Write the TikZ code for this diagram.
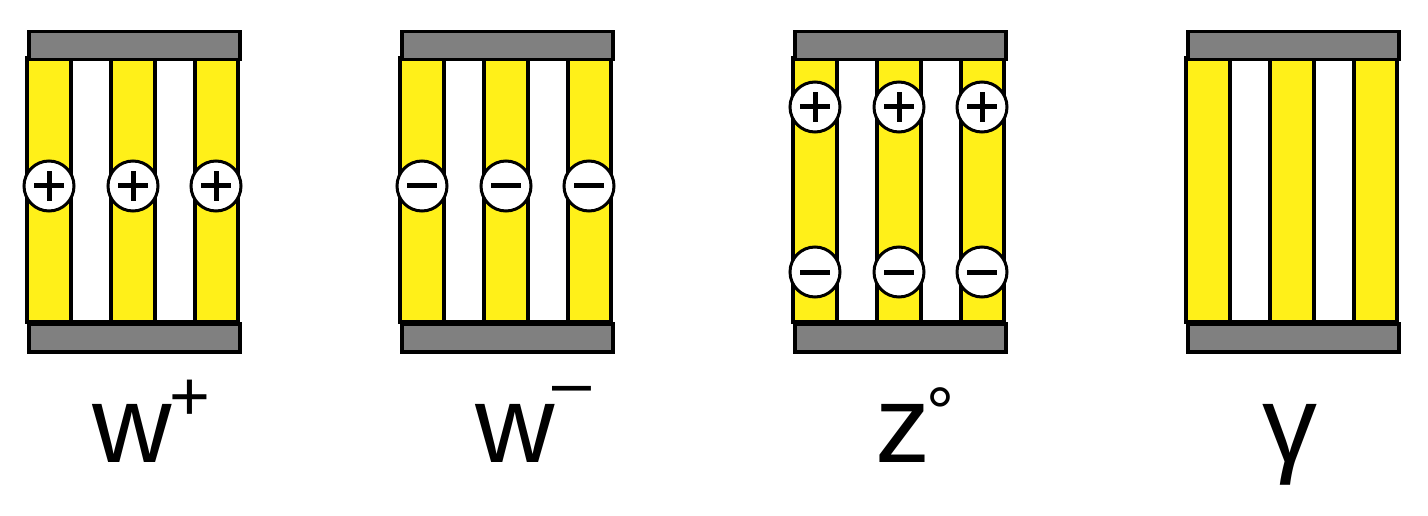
\documentclass[tikz,border=0pt]{standalone}
\usepackage{fontspec}
\setmainfont{Liberation Sans}
\definecolor{ylw}{RGB}{255,240,25}
\begin{document}
\begin{tikzpicture}[x=1pt,y=-1pt,
  grayb/.style={draw=black,line width=3.5pt,fill=black!50,minimum width=211pt,minimum height=28pt,inner sep=0pt,anchor=north west},
  chg/.style={circle,draw=black,line width=3pt,fill=white,minimum size=50pt,inner sep=0pt},
  sgn/.style={line width=5pt},
  lab/.style={font=\fontsize{110}{110}\selectfont,anchor=base}]
\useasboundingbox (0,0) rectangle (1428,516);
\def\panel#1#2{%
  \begin{scope}[xshift=#1]
  \fill[ylw] (0,58) rectangle (211,322);
  \fill[white] (44,58) rectangle (84,322) (128,58) rectangle (168,322);
  \draw[line width=3.5pt] (0,58) rectangle (211,322);
  \draw[line width=3.5pt] (44,58) -- (44,322) (84,58) -- (84,322) (128,58) -- (128,322) (168,58) -- (168,322);
  \node[grayb] (#2t) at (0,30) {};
  \node[grayb] (#2b) at (0,322) {};
  \end{scope}}
\panel{27pt}{a}
\panel{400pt}{b}
\panel{793pt}{c}
\panel{1186pt}{d}
\def\plus#1{\draw[sgn] ([xshift=-15pt]#1.center) -- ([xshift=15pt]#1.center) ([yshift=-15pt]#1.center) -- ([yshift=15pt]#1.center);}
\def\minus#1{\draw[sgn] ([xshift=-15pt]#1.center) -- ([xshift=15pt]#1.center);}
\foreach \x/\n in {49/1,133/2,216/3}{\node[chg] (p\n) at (\x,186) {}; \plus{p\n}}
\foreach \x/\n in {422/1,506/2,589/3}{\node[chg] (m\n) at (\x,186) {}; \minus{m\n}}
\foreach \x/\n in {815/1,899/2,982/3}{\node[chg] (zp\n) at (\x,107) {}; \plus{zp\n} \node[chg] (zm\n) at (\x,272) {}; \minus{zm\n}}
\node[lab] (lw1) at (132,462) {w};
\node[font=\fontsize{70}{70}\selectfont] (s1) at (190,400) {+};
\node[lab] (lw2) at (515,462) {w};
\node[font=\fontsize{70}{70}\selectfont] (s2) at (572,396) {–};
\node[lab] (lz) at (903,462) {z};
\node[font=\fontsize{70}{70}\selectfont,inner sep=0pt] (s3) at (940,412) {°};
\node[lab] (lg) at (1290,462) {γ};
\end{tikzpicture}
\end{document}
